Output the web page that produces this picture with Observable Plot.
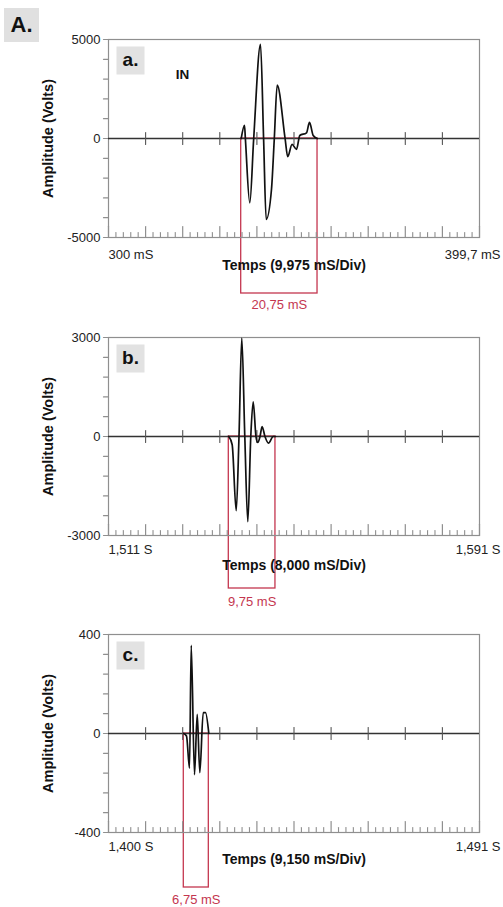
<!DOCTYPE html>
<html><head><meta charset="utf-8">
<script src="https://cdn.jsdelivr.net/npm/d3@7"></script>
<script src="https://cdn.jsdelivr.net/npm/@observablehq/plot@0.6"></script>
<style>
body{margin:0;background:#fff;}
#page{position:relative;width:503px;height:907px;overflow:hidden;font-family:"Liberation Sans",Arial,sans-serif;background:#fff;}
.panel{position:absolute;left:0;}
#bigA{position:absolute;left:4px;top:8px;width:35px;height:34px;background:#e0e0e0;font-weight:bold;font-size:22px;line-height:34px;text-align:center;color:#111;}
</style></head><body>
<div id="page"><div id="bigA">A.</div></div>
<script>
// ---------- data ----------
// Panel a
const letterA = "a.";
const xDomainA = [300, 399.75];
const xLabelsA = ["300 mS", "399,7 mS"];
const yDomainA = [-5000, 5000];
const yTicksA = [-5000, -4000, -3000, -2000, -1000, 0, 1000, 2000, 3000, 4000, 5000];
const yLabelValsA = [5000, 0, -5000];
const yLabelsA = ["5000", "0", "-5000"];
const xTitleA = "Temps (9,975 mS/Div)";
const waveA_t = [335.68, 336.57, 336.8, 337.99, 339.04, 340.87, 341.70, 342.40, 343.83, 344.58, 345.36, 347.48, 348.18, 349.36, 350.55, 351.43, 353.24, 354.04, 355.04, 356.11];
const waveA_v = [0, 665, 0, -3250, 0, 4750, 0, -4085, -2550, 0, 2700, 0, -917, -300, -550, 150, 285, 815, 150, 0];
const bracketA = [335.68, 356.2];
const bracketLabelA = "20,75 mS";
const noteA = "IN";

// Panel b
const letterB = "b.";
const xDomainB = [1511, 1591];
const xLabelsB = ["1,511 S", "1,591 S"];
const yDomainB = [-3000, 3000];
const yTicksB = [-3000, -2400, -1800, -1200, -600, 0, 600, 1200, 1800, 2400, 3000];
const yLabelValsB = [3000, 0, -3000];
const yLabelsB = ["3000", "0", "-3000"];
const xTitleB = "Temps (8,000 mS/Div)";
const waveB_t = [1536.94, 1537.67, 1538.54, 1539.14, 1539.74, 1540.39, 1541.04, 1541.68, 1542.20, 1542.80, 1543.19, 1543.67, 1544.12, 1544.74, 1545.50, 1546.51, 1547.0];
const waveB_v = [0, -250, -2250, 0, 2980, 0, -2580, 0, 1050, 0, -180, 0, 300, 0, -200, 0, 0];
const bracketB = [1536.94, 1547.0];
const bracketLabelB = "9,75 mS";

// Panel c
const letterC = "c.";
const xDomainC = [1400, 1491.5];
const xLabelsC = ["1,400 S", "1,491 S"];
const yDomainC = [-400, 400];
const yTicksC = [-400, -320, -240, -160, -80, 0, 80, 160, 240, 320, 400];
const yLabelValsC = [400, 0, -400];
const yLabelsC = ["400", "0", "-400"];
const xTitleC = "Temps (9,150 mS/Div)";
const waveC_t = [1418.57, 1419.24, 1419.98, 1420.40, 1421.21, 1421.88, 1422.52, 1423.36, 1423.92, 1424.74];
const waveC_v = [0, -10, -140, 356, -166, 77, -158, 84, 84, 0];
const bracketC = [1418.57, 1424.74];
const bracketLabelC = "6,75 mS";

const yTitle = "Amplitude (Volts)";

// ---------- layout / style ----------
const RED = "#c4364f", GRAY = "#8f8f8f";
const FONT = "'Liberation Sans', Arial, sans-serif";
const tickShape = {draw(ctx, l) { ctx.moveTo(0, 0); ctx.lineTo(0, -l); }};

const layouts = [
  {top: 0,   height: 315, mt: 39, mb: 78, xlab: 17, title: 28, brDepth: 56, brLabel: 67},
  {top: 315, height: 297, mt: 22, mb: 77, xlab: 14, title: 30, brDepth: 53, brLabel: 66},
  {top: 612, height: 295, mt: 22, mb: 75, xlab: 14, title: 27, brDepth: 55, brLabel: 67}
];

const panels = [
  {letter: letterA, xDomain: xDomainA, xLabels: xLabelsA, yDomain: yDomainA, yTicks: yTicksA, yLabelVals: yLabelValsA, yLabels: yLabelsA, xTitle: xTitleA, t: waveA_t, v: waveA_v, bracket: bracketA, bracketLabel: bracketLabelA, note: noteA},
  {letter: letterB, xDomain: xDomainB, xLabels: xLabelsB, yDomain: yDomainB, yTicks: yTicksB, yLabelVals: yLabelValsB, yLabels: yLabelsB, xTitle: xTitleB, t: waveB_t, v: waveB_v, bracket: bracketB, bracketLabel: bracketLabelB},
  {letter: letterC, xDomain: xDomainC, xLabels: xLabelsC, yDomain: yDomainC, yTicks: yTicksC, yLabelVals: yLabelValsC, yLabels: yLabelsC, xTitle: xTitleC, t: waveC_t, v: waveC_v, bracket: bracketC, bracketLabel: bracketLabelC}
];

function drawPanel(p, lay) {
  const [t0, t1] = p.xDomain;
  const step = (t1 - t0) / 10;
  const majors = d3.range(11).map(i => t0 + i * step);
  const minors = d3.range(51).filter(i => i % 5).map(i => t0 + i * step / 5);
  const ymin = p.yDomain[0];
  const wave = p.t.map((t, i) => ({t, v: p.v[i]}));
  const br = [{x1: p.bracket[0], x2: p.bracket[1], label: p.bracketLabel}];
  const marks = [
    Plot.rect(br, {x1: "x1", x2: "x2", y1: () => 0, y2: () => ymin, insetBottom: -lay.brDepth, fill: "none", stroke: RED, strokeWidth: 1.3}),
    Plot.frame({stroke: GRAY, strokeWidth: 1.2}),
    Plot.vector(p.yTicks, {y: d => d, frameAnchor: "left", rotate: -90, length: 5, anchor: "start", shape: tickShape, stroke: GRAY, strokeWidth: 1.2}),
    Plot.vector(majors, {x: d => d, frameAnchor: "bottom", length: 11, anchor: "start", shape: tickShape, stroke: GRAY, strokeWidth: 1.2}),
    Plot.vector(minors, {x: d => d, frameAnchor: "bottom", length: 5, anchor: "start", shape: tickShape, stroke: GRAY, strokeWidth: 1.1}),
    Plot.ruleY([0], {stroke: "#333", strokeWidth: 1.5}),
    Plot.vector(majors.slice(1, -1), {x: d => d, y: () => 0, length: 12, anchor: "middle", shape: tickShape, stroke: "#555", strokeWidth: 1.1}),
    Plot.line(wave, {x: "t", y: "v", curve: "monotone-x", stroke: "#111", strokeWidth: 1.7}),
    Plot.text(p.yLabelVals, {y: d => d, frameAnchor: "left", dx: -8, textAnchor: "end", lineAnchor: "middle", text: (d, i) => p.yLabels[i], fontSize: 13, fill: "#222"}),
    Plot.text([t0], {x: d => d, frameAnchor: "bottom", dy: lay.xlab, textAnchor: "start", lineAnchor: "middle", text: () => p.xLabels[0], fontSize: 13, fill: "#222"}),
    Plot.text([t1], {x: d => d, frameAnchor: "bottom", dx: 21, dy: lay.xlab, textAnchor: "end", lineAnchor: "middle", text: () => p.xLabels[1], fontSize: 13, fill: "#222"}),
    Plot.text([p.xTitle], {frameAnchor: "bottom", dy: lay.title, textAnchor: "middle", lineAnchor: "middle", text: d => d, fontSize: 14, fontWeight: "bold", fill: "#111"}),
    Plot.text([yTitle], {frameAnchor: "left", dx: -60, rotate: -90, textAnchor: "middle", lineAnchor: "middle", text: d => d, fontSize: 14.5, fontWeight: "bold", fill: "#111"}),
    Plot.text(br, {x: d => (d.x1 + d.x2) / 2, frameAnchor: "bottom", dy: lay.brLabel, textAnchor: "middle", lineAnchor: "middle", text: "label", fontSize: 13, fill: RED}),
    Plot.dot([p.letter], {frameAnchor: "top-left", dx: 22, dy: 21, symbol: "square", r: 15.8, fill: "#e2e2e2", stroke: "none"}),
    Plot.text([p.letter], {frameAnchor: "top-left", dx: 22, dy: 20, textAnchor: "middle", lineAnchor: "middle", text: d => d, fontSize: 19, fontWeight: "bold", fill: "#111"})
  ];
  if (p.note) marks.push(Plot.text([p.note], {frameAnchor: "top-left", dx: 74, dy: 35, textAnchor: "middle", lineAnchor: "middle", text: d => d, fontSize: 13.5, fontWeight: "bold", fill: "#111"}));
  return Plot.plot({
    width: 503, height: lay.height,
    marginLeft: 108, marginRight: 24, marginTop: lay.mt, marginBottom: lay.mb,
    x: {domain: p.xDomain, axis: null},
    y: {domain: p.yDomain, axis: null},
    style: {fontFamily: FONT, background: "transparent", overflow: "visible"},
    marks
  });
}

const page = document.getElementById("page");
panels.forEach((p, i) => {
  const lay = layouts[i];
  const div = document.createElement("div");
  div.className = "panel";
  div.style.top = lay.top + "px";
  div.appendChild(drawPanel(p, lay));
  page.appendChild(div);
});
</script>
</body></html>
